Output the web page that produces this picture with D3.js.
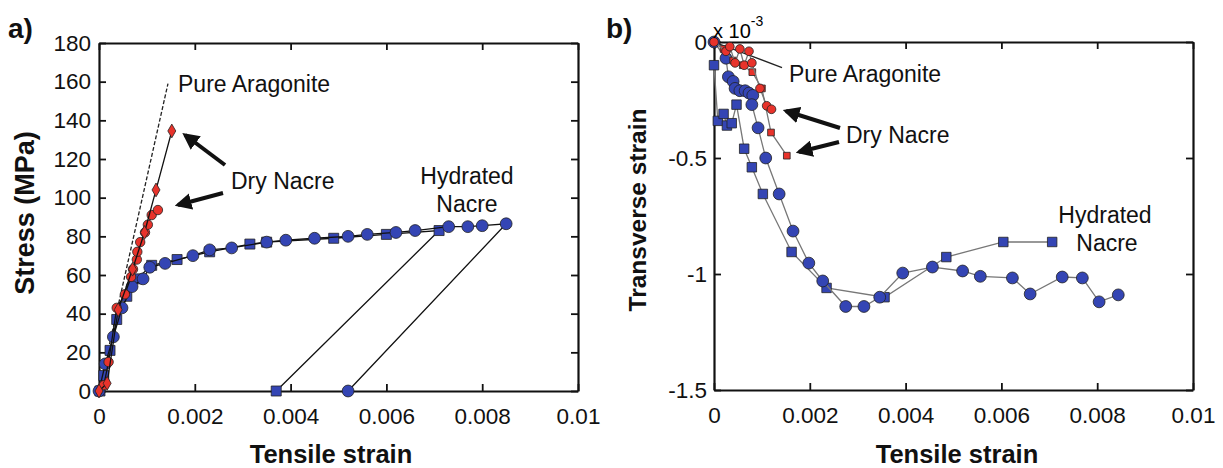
<!DOCTYPE html>
<html>
<head>
<meta charset="utf-8">
<title>Nacre tensile tests</title>
<script src="https://d3js.org/d3.v7.min.js"></script>
<style>
body { margin: 0; padding: 0; background: white; }
svg { display: block; font-family: Arial, "Liberation Sans", Helvetica, sans-serif; }
.tick text { font-size: 22.5px; fill: #111; }
.axis path, .axis line { stroke: #111; }
.title { font-weight: bold; font-size: 25.5px; fill: #111; }
.note { font-size: 23px; fill: #111; }
</style>
</head>
<body>
<svg id="chart" width="1223" height="468"></svg>
<script>
// ---- data: panel a (strain, stress MPa) ----
var aragoniteA = [[0, 0], [0.00144, 159]];
var dryDiamondA = [[0, 0], [0.00017, 4], [0.0004, 42], [0.0007, 63], [0.00095, 82], [0.00119, 104], [0.00152, 134.5]];
var dryCircleA = [[0.0001, 3], [0.0002, 15], [0.00037, 43], [0.00054, 50], [0.00067, 59], [0.00071, 63], [0.00079, 68],
  [0.0008, 72], [0.00086, 77], [0.00096, 82], [0.00102, 86], [0.0011, 91], [0.00123, 93.6]];
var hydCircleA = [[0, 0], [0.00013, 14], [0.0003, 28], [0.00048, 43], [0.00069, 54], [0.00092, 58], [0.00106, 64],
  [0.00138, 66], [0.00196, 70], [0.00231, 73], [0.00277, 74], [0.0035, 77], [0.0039, 78], [0.0045, 79], [0.0052, 80],
  [0.0056, 81], [0.0062, 82], [0.0066, 83], [0.0073, 85], [0.0077, 85], [0.008, 85.5], [0.0085, 86.5], [0.0052, 0]];
var hydSquareA = [[0.00002, 0], [0.0001, 8], [0.00023, 21], [0.00037, 37], [0.00058, 49], [0.00079, 58], [0.0011, 65],
  [0.00163, 68], [0.00231, 72], [0.00315, 76], [0.0035, 77], [0.0049, 79], [0.006, 81], [0.0071, 83], [0.0037, 0]];

// ---- data: panel b (strain, transverse strain x1e-3) ----
var aragoniteB = [[0, 0], [0.00142, -0.11]];
var dryCircleB = [[0, 0], [0.00025, -0.04], [0.00033, -0.02], [0.00044, -0.09], [0.00054, -0.03], [0.00063, -0.1],
  [0.00073, -0.04], [0.00079, -0.09], [0.00096, -0.2], [0.0011, -0.275], [0.0012, -0.29]];
var drySquareB = [[0, 0], [0.0002, -0.03], [0.0004, -0.08], [0.0006, -0.1], [0.0008, -0.13], [0.001, -0.2],
  [0.00119, -0.39], [0.00152, -0.49]];
var hydCircleB = [[0, 0], [0.00025, -0.07], [0.0003, -0.15], [0.0004, -0.17], [0.00044, -0.2], [0.00054, -0.21],
  [0.00065, -0.21], [0.00073, -0.22], [0.00081, -0.23], [0.00079, -0.27], [0.00092, -0.37], [0.00108, -0.5],
  [0.00136, -0.655], [0.00165, -0.815], [0.00198, -0.953], [0.00227, -1.03], [0.00275, -1.14], [0.00313, -1.14],
  [0.00346, -1.10], [0.00394, -0.996], [0.00456, -0.97], [0.00519, -0.987], [0.00556, -1.01], [0.00623, -1.017],
  [0.0066, -1.086], [0.00727, -1.013], [0.00769, -1.017], [0.00804, -1.12], [0.00844, -1.09]];
var hydSquareB = [[0, -0.1], [0.00008, -0.34], [0.0002, -0.31], [0.00027, -0.36], [0.00037, -0.35], [0.00047, -0.27],
  [0.00063, -0.46], [0.00079, -0.54], [0.00102, -0.655], [0.00162, -0.905], [0.00235, -1.06], [0.00356, -1.10],
  [0.00485, -0.927], [0.00604, -0.862], [0.00706, -0.862]];

// ---- tick labels ----
var xTicks = [0, 0.002, 0.004, 0.006, 0.008, 0.01];
var xTickLabels = ["0", "0.002", "0.004", "0.006", "0.008", "0.01"];
var yTicksA = [0, 20, 40, 60, 80, 100, 120, 140, 160, 180];
var yTicksB = [0, -0.5, -1, -1.5];
var yTickLabelsB = ["0", "-0.5", "-1", "-1.5"];

var red = "#e8332b", blue = "#3445b4";
var svg = d3.select("#chart");

// arrow head
svg.append("defs").append("marker")
  .attr("id", "head").attr("viewBox", "0 0 10 10")
  .attr("refX", 8).attr("refY", 5)
  .attr("markerWidth", 4.2).attr("markerHeight", 4.2)
  .attr("orient", "auto")
  .append("path").attr("d", "M0,0 L10,5 L0,10 z").attr("fill", "#111");

function panel(box, ydom, yticks, ylabels, ypad) {
  var x = d3.scaleLinear().domain([0, 0.01]).range([box.left, box.right]);
  var y = d3.scaleLinear().domain(ydom).range([box.bottom, box.top]);
  var g = svg.append("g");
  var fmtX = function(d, i) { return xTickLabels[i]; };
  var fmtY = function(d, i) { return ylabels ? ylabels[i] : d; };

  g.append("g").attr("class", "axis").attr("transform", "translate(0," + box.bottom + ")")
    .call(d3.axisBottom(x).tickValues(xTicks).tickFormat(fmtX).tickSizeInner(-7).tickSizeOuter(0).tickPadding(17));
  g.append("g").attr("class", "axis").attr("transform", "translate(0," + box.top + ")")
    .call(d3.axisTop(x).tickValues(xTicks).tickFormat("").tickSizeInner(-7).tickSizeOuter(0));
  g.append("g").attr("class", "axis").attr("transform", "translate(" + box.left + ",0)")
    .call(d3.axisLeft(y).tickValues(yticks).tickFormat(fmtY).tickSizeInner(-7).tickSizeOuter(0).tickPadding(ypad));
  g.append("g").attr("class", "axis").attr("transform", "translate(" + box.right + ",0)")
    .call(d3.axisRight(y).tickValues(yticks).tickFormat("").tickSizeInner(-7).tickSizeOuter(0));
  g.selectAll(".axis path").attr("stroke-width", 2.2);
  g.selectAll(".axis line").attr("stroke-width", 1.8);
  g.selectAll(".tick text").filter(function() { return this.textContent === ""; }).remove();
  return { x: x, y: y, g: g };
}

function series(p, data, color, shape, size, lineColor, dash) {
  var line = d3.line().x(function(d) { return p.x(d[0]); }).y(function(d) { return p.y(d[1]); });
  p.g.append("path").datum(data).attr("d", line)
    .attr("fill", "none").attr("stroke", lineColor).attr("stroke-width", 1.3)
    .attr("stroke-dasharray", dash || null);
  if (!shape) return;
  var sym = d3.symbol().type(shape).size(size);
  p.g.append("g").selectAll("path").data(data).join("path")
    .attr("transform", function(d) { return "translate(" + p.x(d[0]) + "," + p.y(d[1]) + ")"; })
    .attr("d", sym).attr("fill", color).attr("stroke", "#222").attr("stroke-width", 0.8);
}

function arrow(x1, y1, x2, y2) {
  svg.append("line").attr("x1", x1).attr("y1", y1).attr("x2", x2).attr("y2", y2)
    .attr("stroke", "#111").attr("stroke-width", 4).attr("marker-end", "url(#head)");
}

// ---- panel a ----
var pa = panel({ left: 99, right: 578, top: 43, bottom: 391 }, [0, 180], yTicksA, null, 8);
series(pa, aragoniteA, null, null, 0, "#222", "4,2");
series(pa, hydSquareA, blue, d3.symbolSquare, 100, "#111");
series(pa, hydCircleA, blue, d3.symbolCircle, 110, "#111");
series(pa, dryCircleA, red, d3.symbolCircle, 70, "#111");
series(pa, dryDiamondA, red, d3.symbolDiamond, 55, "#111");

svg.append("text").attr("class", "note").attr("x", 178).attr("y", 92).text("Pure Aragonite");
svg.append("text").attr("class", "note").attr("x", 231).attr("y", 189).text("Dry Nacre");
svg.append("text").attr("class", "note").attr("x", 467).attr("y", 184).attr("text-anchor", "middle").text("Hydrated");
svg.append("text").attr("class", "note").attr("x", 467).attr("y", 212).attr("text-anchor", "middle").text("Nacre");
arrow(225, 165, 185, 135);
arrow(223, 193, 178, 205);

svg.append("text").attr("class", "title").attr("x", 331).attr("y", 463).attr("text-anchor", "middle").text("Tensile strain");
svg.append("text").attr("class", "title").attr("transform", "translate(34,213) rotate(-90)")
  .style("font-size", "27px").attr("text-anchor", "middle").text("Stress (MPa)");
svg.append("text").attr("class", "title").attr("x", 8).attr("y", 38).style("font-size", "28px").text("a)");

// ---- panel b ----
var pb = panel({ left: 714, right: 1193, top: 42, bottom: 390 }, [-1.5, 0], yTicksB, yTickLabelsB, 7);
series(pb, aragoniteB, null, null, 0, "#222");
series(pb, hydSquareB, blue, d3.symbolSquare, 90, "#777");
series(pb, hydCircleB, blue, d3.symbolCircle, 110, "#777");
series(pb, drySquareB, red, d3.symbolSquare, 45, "#777");
series(pb, dryCircleB, red, d3.symbolCircle, 60, "#777");

svg.append("text").attr("class", "note").attr("x", 789).attr("y", 82).text("Pure Aragonite");
svg.append("text").attr("class", "note").attr("x", 846).attr("y", 143).text("Dry Nacre");
svg.append("text").attr("class", "note").attr("x", 1105).attr("y", 223).attr("text-anchor", "middle").text("Hydrated");
svg.append("text").attr("class", "note").attr("x", 1107).attr("y", 251).attr("text-anchor", "middle").text("Nacre");
arrow(840, 128, 786, 111);
arrow(839, 142, 799, 152);

var sci = svg.append("text").attr("x", 713).attr("y", 38).style("font-size", "20px");
sci.append("tspan").text("x 10");
sci.append("tspan").attr("dy", -12).style("font-size", "14px").text("-3");

svg.append("text").attr("class", "title").attr("x", 957).attr("y", 463).attr("text-anchor", "middle").text("Tensile strain");
svg.append("text").attr("class", "title").attr("transform", "translate(646,210) rotate(-90)")
  .style("font-size", "24.5px").attr("text-anchor", "middle").text("Transverse strain");
svg.append("text").attr("class", "title").attr("x", 606).attr("y", 38).style("font-size", "28px").text("b)");
</script>
</body>
</html>
